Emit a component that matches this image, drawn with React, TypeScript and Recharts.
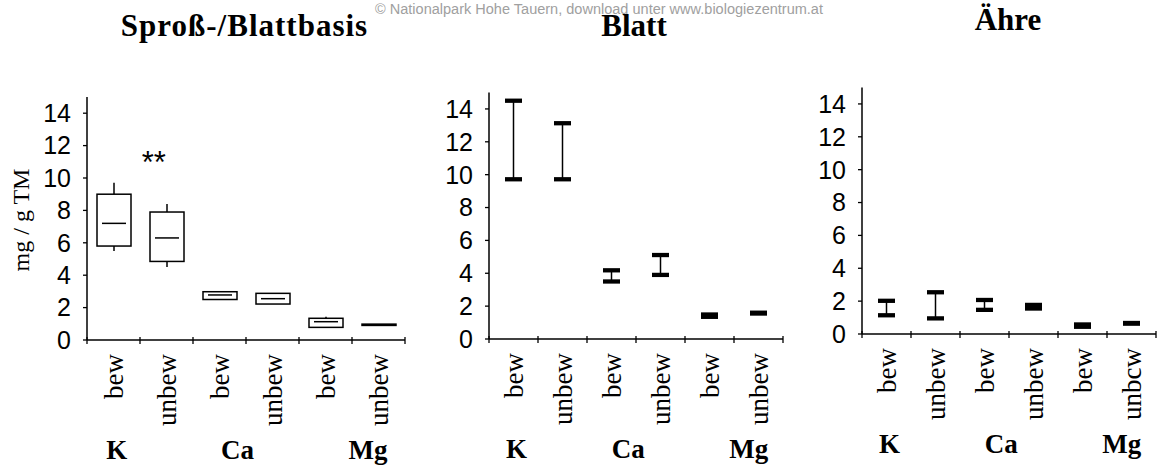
import React from 'react';
import { ComposedChart, Bar, XAxis, YAxis, ReferenceDot } from 'recharts';

const categories = ['bew', 'unbew', 'bew', 'unbew', 'bew', 'unbew'];
const categoriesAehre = ['bew', 'unbew', 'bew', 'unbew', 'bew', 'unbcw'];
const elements = ['K', 'Ca', 'Mg'];
const elementPos = [0.56, 2.84, 5.3];
const yTicks = [0, 2, 4, 6, 8, 10, 12, 14];

// Sproß-/Blattbasis: box plots (mg / g TM)
const sprossLow = [5.5, 4.5, 2.5, 2.22, 0.78, 0.9];
const sprossQ1 = [5.8, 4.85, 2.5, 2.22, 0.78, 0.9];
const sprossMedian = [7.2, 6.3, 2.78, 2.55, 1.13, 0.94];
const sprossQ3 = [9.0, 7.9, 2.98, 2.88, 1.34, 0.98];
const sprossHigh = [9.7, 8.4, 2.98, 2.88, 1.44, 0.98];

// Blatt: range min / max
const blattLow = [9.72, 9.72, 3.5, 3.9, 1.35, 1.55];
const blattHigh = [14.5, 13.13, 4.18, 5.11, 1.49, 1.6];

// Ähre: range min / max
const aehreLow = [1.14, 0.95, 1.47, 1.55, 0.44, 0.63];
const aehreHigh = [2.02, 2.54, 2.07, 1.77, 0.58, 0.67];

const boundaries = [0, 1, 2, 3, 4, 5, 6];
const centers = categories.map((_, i) => i + 0.5);
const xTicks = [...boundaries, ...centers, ...elementPos];

const serif = '"Liberation Serif", "Times New Roman", serif';
const sans = '"Liberation Sans", Arial, sans-serif';

const sprossData = categories.map((c, i) => ({
  x: i + 0.5,
  low: sprossLow[i],
  q1: sprossQ1[i],
  median: sprossMedian[i],
  q3: sprossQ3[i],
  high: sprossHigh[i],
}));
const blattData = categories.map((c, i) => ({ x: i + 0.5, low: blattLow[i], high: blattHigh[i] }));
const aehreData = categories.map((c, i) => ({ x: i + 0.5, low: aehreLow[i], high: aehreHigh[i] }));

const BoxShape = (props: any) => {
  const { x, y, width, height, payload } = props;
  const top = Math.min(y, y + height);
  const h = Math.abs(height);
  const { low, q1, median, q3, high } = payload;
  const toY = (v: number) => (high === low ? top : top + (h * (high - v)) / (high - low));
  const cx = x + width / 2;
  return (
    <g stroke='#000' strokeWidth={1.5}>
      {high > q3 && <line x1={cx} x2={cx} y1={toY(high)} y2={toY(q3)} />}
      {q1 > low && <line x1={cx} x2={cx} y1={toY(q1)} y2={toY(low)} />}
      <rect x={x} y={toY(q3)} width={width} height={Math.max(toY(q1) - toY(q3), 1)} fill='#fff' />
      <line x1={x + 5} x2={x + width - 5} y1={toY(median)} y2={toY(median)} />
    </g>
  );
};

const RangeShape = (props: any) => {
  const { x, y, width, height } = props;
  const top = Math.min(y, y + height);
  const bottom = top + Math.abs(height);
  const cx = x + width / 2;
  return (
    <g stroke='#000'>
      <line x1={cx} x2={cx} y1={top} y2={bottom} strokeWidth={1.5} />
      <line x1={x} x2={x + width} y1={top} y2={top} strokeWidth={4.3} />
      <line x1={x} x2={x + width} y1={bottom} y2={bottom} strokeWidth={4.3} />
    </g>
  );
};

const makeTick = (labels: string[]) => (props: any) => {
  const { x, y, payload } = props;
  const v = payload.value;
  const ci = centers.indexOf(v);
  const gi = elementPos.indexOf(v);
  if (boundaries.includes(v)) {
    return <line x1={x} x2={x} y1={y - 3} y2={y + 4} stroke='#000' strokeWidth={1.3} />;
  }
  if (ci >= 0) {
    return (
      <text
        x={x}
        y={y + 14}
        dy='0.35em'
        transform={`rotate(-90, ${x}, ${y + 14})`}
        textAnchor='end'
        fontFamily={serif}
        fontSize={27}
        fill='#000'
      >
        {labels[ci]}
      </text>
    );
  }
  if (gi >= 0) {
    return (
      <text x={x} y={y + 119} textAnchor='middle' fontFamily={serif} fontWeight='bold' fontSize={27} fill='#000'>
        {elements[gi]}
      </text>
    );
  }
  return <g />;
};

type PanelProps = {
  data: any[];
  labels: string[];
  shape: (p: any) => React.ReactElement;
  barSize: number;
  left: number;
  width: number;
  margin: { top: number; right: number; left: number; bottom: number };
  axisHeight: number;
  children?: React.ReactNode;
};

const Panel = ({ data, labels, shape, barSize, left, width, margin, axisHeight, children }: PanelProps) => (
  <div style={{ position: 'absolute', left, top: 0 }}>
    <ComposedChart width={width} height={468} data={data} margin={margin}>
      <XAxis
        dataKey='x'
        type='number'
        domain={[0, 6]}
        ticks={xTicks}
        interval={0}
        tickLine={false}
        tickSize={0}
        tickMargin={0}
        height={axisHeight}
        axisLine={{ stroke: '#000', strokeWidth: 1.5 }}
        tick={makeTick(labels)}
      />
      <YAxis
        type='number'
        domain={[0, 15]}
        ticks={yTicks}
        interval={0}
        width={60}
        tickSize={4}
        tickMargin={12}
        axisLine={{ stroke: '#000', strokeWidth: 1.5 }}
        tickLine={{ stroke: '#000', strokeWidth: 1.3 }}
        tick={{ fill: '#000', fontSize: 25, fontFamily: sans }}
      />
      <Bar
        dataKey={(d: any) => [d.low, d.high]}
        barSize={barSize}
        shape={shape}
        isAnimationActive={false}
      />
      {children}
    </ComposedChart>
  </div>
);

export default function App() {
  return (
    <div style={{ position: 'absolute', left: 0, top: 0, width: 1161, height: 468, background: '#fff' }}>
      <Panel
        data={sprossData}
        labels={categories}
        shape={BoxShape}
        barSize={34}
        left={0}
        width={420}
        margin={{ top: 97, right: 15, left: 27, bottom: 0 }}
        axisHeight={128}
      >
        <ReferenceDot
          x={1.26}
          y={11.0}
          r={0}
          stroke='none'
          fill='none'
          label={{ value: '**', position: 'center', fontSize: 31, fill: '#000', fontFamily: sans }}
        />
      </Panel>
      <Panel
        data={blattData}
        labels={categories}
        shape={RangeShape}
        barSize={17}
        left={400}
        width={400}
        margin={{ top: 92.5, right: 17, left: 29, bottom: 0 }}
        axisHeight={129}
      />
      <Panel
        data={aehreData}
        labels={categoriesAehre}
        shape={RangeShape}
        barSize={17}
        left={780}
        width={381}
        margin={{ top: 87.5, right: 5, left: 22, bottom: 0 }}
        axisHeight={134}
      />
      <svg
        width={1161}
        height={468}
        style={{ position: 'absolute', left: 0, top: 0, pointerEvents: 'none' }}
      >
        <text x={375} y={14} textLength={448} lengthAdjust='spacingAndGlyphs' fontFamily={sans} fontSize={14} fill='#a0a0a0'>
          © Nationalpark Hohe Tauern, download unter www.biologiezentrum.at
        </text>
        <text x={244.5} y={36} textAnchor='middle' fontFamily={serif} fontWeight='bold' fontSize={31} letterSpacing={1} fill='#000'>
          Sproß-/Blattbasis
        </text>
        <text x={634} y={36} textAnchor='middle' fontFamily={serif} fontWeight='bold' fontSize={31} fill='#000'>
          Blatt
        </text>
        <text x={1008} y={30} textAnchor='middle' fontFamily={serif} fontWeight='bold' fontSize={31} fill='#000'>
          Ähre
        </text>
        <text
          x={29}
          y={220}
          transform='rotate(-90, 29, 220)'
          textAnchor='middle'
          fontFamily={serif}
          fontSize={24}
          fill='#000'
        >
          mg / g TM
        </text>
      </svg>
    </div>
  );
}
